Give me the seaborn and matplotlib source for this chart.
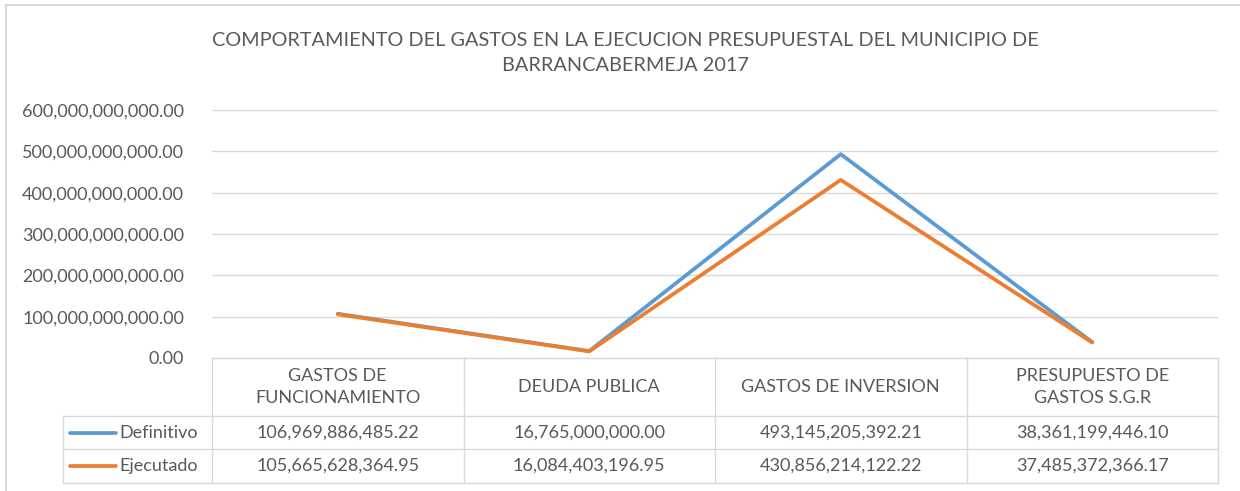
import matplotlib
matplotlib.use("Agg")
import matplotlib.pyplot as plt
import matplotlib.transforms as mtransforms
from matplotlib.lines import Line2D
from matplotlib.ticker import FuncFormatter, MultipleLocator
import pandas as pd
import seaborn as sns

categories = ["GASTOS DE\nFUNCIONAMIENTO", "DEUDA PUBLICA",
              "GASTOS DE INVERSION", "PRESUPUESTO DE\nGASTOS S.G.R"]
definitivo = [106969886485.22, 16765000000.00, 493145205392.21, 38361199446.10]
ejecutado = [105665628364.95, 16084403196.95, 430856214122.22, 37485372366.17]
series_names = ["Definitivo", "Ejecutado"]
title = ("COMPORTAMIENTO DEL GASTOS EN LA EJECUCION PRESUPUESTAL DEL MUNICIPIO DE\n"
         "BARRANCABERMEJA 2017")

colors = {"Definitivo": "#5B9BD5", "Ejecutado": "#ED7D31"}
text_color = "#595959"
grid_color = "#D9D9D9"

sns.set_theme(style="white")
plt.rcParams["font.family"] = ["Lato", "DejaVu Sans"]

df = pd.DataFrame({
    "pos": list(range(len(categories))) * 2,
    "valor": definitivo + ejecutado,
    "serie": [series_names[0]] * len(categories) + [series_names[1]] * len(categories),
})

W, H = 1240, 491
fs = 13.0
fig = plt.figure(figsize=(W / 100, H / 100), dpi=100)
ax = fig.add_axes([212 / W, 1 - 358 / H, (1218 - 212) / W, (358 - 110) / H])

sns.lineplot(data=df, x="pos", y="valor", hue="serie", palette=colors,
             linewidth=2.7, legend=False, ax=ax, sort=False)

ax.set_xlim(-0.5, len(categories) - 0.5)
ax.set_ylim(0, 600e9)
ax.yaxis.set_major_locator(MultipleLocator(100e9))
ax.yaxis.set_major_formatter(FuncFormatter(lambda v, p: f"{v:,.2f}"))
ax.tick_params(axis="y", length=0, pad=20, labelsize=fs, labelcolor=text_color)
ax.set_xticks([])
ax.set_xlabel("")
ax.set_ylabel("")
ax.grid(axis="y", color=grid_color, linewidth=1)
for s in ax.spines.values():
    s.set_visible(False)

fig.text(625 / W, 1 - 53 / H, title, ha="center", va="center",
         fontsize=14.3, color=text_color, linespacing=1.55)

# Data table beneath the plot area
trans = mtransforms.blended_transform_factory(ax.transData, fig.transFigure)
ftrans = fig.transFigure
y_top = 1 - 358 / H
y_r1 = 1 - 416 / H
y_r2 = 1 - 449 / H
y_bot = 1 - 483 / H
x_leg = 63 / W
xe = [-0.5 + i for i in range(len(categories) + 1)]
lw_tab = 1.0

# vertical cell borders
for x in xe:
    ax.add_line(Line2D([x, x], [y_top, y_bot], transform=trans, color=grid_color,
                       lw=lw_tab, clip_on=False))
# top border over the category columns
ax.add_line(Line2D([xe[0], xe[-1]], [y_top, y_top], transform=trans, color=grid_color,
                   lw=lw_tab, clip_on=False))
# row borders extending to the legend column
x_right = 1218 / W
for y in (y_r1, y_r2, y_bot):
    fig.add_artist(Line2D([x_leg, x_right], [y, y], transform=ftrans,
                          color=grid_color, lw=lw_tab))
fig.add_artist(Line2D([x_leg, x_leg], [y_r1, y_bot], transform=ftrans,
                      color=grid_color, lw=lw_tab))

# header row
for i, c in enumerate(categories):
    ax.text(i, (y_top + y_r1) / 2, c, transform=trans, ha="center", va="center",
            fontsize=fs, color=text_color, linespacing=1.5)

# value rows with legend keys
for vals, name, (ya, yb) in ((definitivo, series_names[0], (y_r1, y_r2)),
                             (ejecutado, series_names[1], (y_r2, y_bot))):
    yc = (ya + yb) / 2
    for i, v in enumerate(vals):
        ax.text(i, yc, f"{v:,.2f}", transform=trans, ha="center", va="center",
                fontsize=fs, color=text_color)
    fig.add_artist(Line2D([70 / W, 116 / W], [yc, yc], transform=ftrans,
                          color=colors[name], lw=2.7, solid_capstyle="round"))
    fig.text(119 / W, yc, name, ha="left", va="center", fontsize=fs,
             color=text_color)

# chart frame
frame = "#D9D9D9"
fig.add_artist(Line2D([6 / W, 1], [1 - 5 / H, 1 - 5 / H], transform=ftrans,
                      color=frame, lw=1.5))
fig.add_artist(Line2D([6 / W, 6 / W], [0, 1 - 5 / H], transform=ftrans,
                      color=frame, lw=1.5))

fig.savefig("out.png", dpi=100, facecolor="white")
